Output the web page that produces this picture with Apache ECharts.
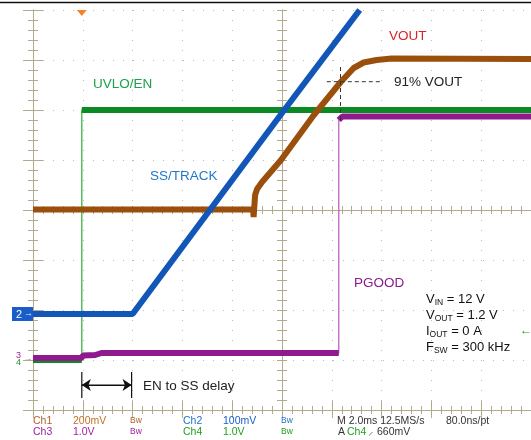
<!DOCTYPE html>
<html><head><meta charset="utf-8">
<script src="https://cdn.jsdelivr.net/npm/echarts@6/dist/echarts.min.js"></script>
<style>html,body{margin:0;padding:0;background:#fff}#c{width:531px;height:440px}</style>
</head><body><div id="c"></div>
<script>
// Time in ms (2 ms/div), amplitude in screen divisions (0 = bottom graticule line, 8 = top)
const timeRange = [0, 20];
const divRange = [0, 8];
const ch4UvloEn = [[0,1.0],[1.96,1.0],[1.96,6.0],[20,6.0]];
const ch3Pgood = [[0,1.04],[1.96,1.04],[2.0,1.09],[2.5,1.1],[2.75,1.14],[12.28,1.14],[12.28,5.8],[12.42,5.87],[20,5.87]];
const ch2SsTrack = [[0,1.92],[4.0,1.92],[10.0,5.94],[13.12,8.0]];
const ch1Vout = [[0,4.01],[8.84,4.01],[8.86,3.86],[8.92,4.3],[9.0,4.42],[9.2,4.56],[9.96,5.0],[11.28,5.9],[12.36,6.56],[12.88,6.84],[13.28,6.95],[13.8,7.0],[14.4,7.03],[20,7.02]];
const mark91H = [[11.8,6.566],[13.96,6.566]];
const mark91V = [[12.35,6.86],[12.35,5.8]];
const delayL = [[1.96,0.76],[1.96,0.24]];
const delayR = [[3.96,0.76],[3.96,0.24]];
const delayArrow = [[1.96,0.5],[3.96,0.5]];
const triggerTime = 1.96;

const FF = '"Liberation Sans", Arial, sans-serif';
const FRAME = '#b4aa90';
const C1 = '#9b4f0c', C2 = '#1257b8', C3 = '#8e1a8e', C4 = '#0b8a22';

function thick(d){ // drop vertical edges (drawn thin)
  const out=[d[0]];
  for(let i=1;i<d.length;i++){
    if(Math.abs(d[i][0]-d[i-1][0])<1e-6){ out.push([d[i][0],null]); }
    out.push(d[i]);
  }
  return out;
}
function line(data, color, w, z, extra){
  return Object.assign({type:'line', xAxisIndex:0, yAxisIndex:0, data, showSymbol:false, symbol:'none', silent:true,
    lineStyle:{color, width:w}, z, clip:true, animation:false, connectNulls:false}, extra||{});
}
const frameAxis = (pos, len, mlen) => ({
  show:true, position:pos, axisLine:{show:true, lineStyle:{color:FRAME, width:1}},
  axisTick:{show:true, inside:true, length:len, lineStyle:{color:FRAME}},
  minorTick:{show:true, splitNumber:5, length:mlen, lineStyle:{color:FRAME}},
  axisLabel:{show:false}, splitLine:{show:false}
});
const centerX = (gi, inside) => ({type:'value', gridIndex:gi, min:-10, max:10, interval:2, position:'bottom',
  axisLine:{show:true, onZero:true, lineStyle:{color:FRAME}},
  axisTick:{show:true, inside, length:4, lineStyle:{color:FRAME}},
  minorTick:{show:true, splitNumber:5, length:4, lineStyle:{color:FRAME}},
  axisLabel:{show:false}, splitLine:{show:false}});
const centerY = (gi, inside) => ({type:'value', gridIndex:gi, min:-4, max:4, interval:1, position:'left',
  axisLine:{show:true, onZero:true, lineStyle:{color:FRAME}},
  axisTick:{show:true, inside, length:5, lineStyle:{color:FRAME}},
  minorTick:{show:true, splitNumber:5, length:5, lineStyle:{color:FRAME}},
  axisLabel:{show:false}, splitLine:{show:false}});

const dotted = {show:true, lineStyle:{color:'#bdbdbd', width:1, type:[1,9]}};
const rect = {left:33, top:10, width:500, height:400};

const chart = echarts.init(document.getElementById('c'), null, {renderer:'canvas'});
chart.setOption({
  animation:false, backgroundColor:'#fff',
  grid:[Object.assign({},rect), Object.assign({},rect), Object.assign({},rect)],
  xAxis:[
    Object.assign({type:'value', gridIndex:0, min:timeRange[0], max:timeRange[1], interval:2}, frameAxis('bottom',9,4), {splitLine:dotted}),
    Object.assign({type:'value', gridIndex:0, min:timeRange[0], max:timeRange[1], interval:2}, frameAxis('top',8,4)),
    centerX(1,false), centerX(2,true)
  ],
  yAxis:[
    Object.assign({type:'value', gridIndex:0, min:divRange[0], max:divRange[1], interval:1}, frameAxis('left',10,5), {splitLine:dotted}),
    Object.assign({type:'value', gridIndex:0, min:divRange[0], max:divRange[1], interval:1}, frameAxis('right',10,5)),
    centerY(1,false), centerY(2,true)
  ],
  series:[
    line(ch4UvloEn, '#3cb043', 1.3, 5),
    line(thick(ch4UvloEn), C4, 6, 6),
    line(ch3Pgood, '#c060c0', 1.3, 7),
    line(thick(ch3Pgood), C3, 6, 8),
    line(thick(ch1Vout), C1, 6, 9),
    line(thick(ch2SsTrack), C2, 6, 10),
    line(mark91H, '#333', 1, 11, {lineStyle:{color:'#333', width:1, type:[4,3]}}),
    line(mark91V, '#333', 1, 11, {lineStyle:{color:'#333', width:1, type:[4,3]}}),
    line(delayL, '#111', 1.2, 11),
    line(delayR, '#111', 1.2, 11),
    line(delayArrow, '#111', 1.2, 11, {markLine:{silent:true, animation:false, symbol:['arrow','arrow'], symbolSize:[9,9],
      lineStyle:{color:'#111', width:1.2, type:'solid'}, label:{show:false},
      data:[[{coord:delayArrow[0]},{coord:delayArrow[1]}]]}})
  ]
});

const tpx = chart.convertToPixel({xAxisIndex:0, yAxisIndex:0}, [triggerTime, 8]);
const c2px = chart.convertToPixel({xAxisIndex:0, yAxisIndex:0}, [0, ch2SsTrack[0][1]]);
const c3px = chart.convertToPixel({xAxisIndex:0, yAxisIndex:0}, [0, ch3Pgood[0][1]]);

function T(x,y,text,fill,size,extra){
  return {type:'text', x, y, z:100, silent:true, style:Object.assign({text, fill, font: size+'px '+FF, textAlign:'left', align:'left', textVerticalAlign:'middle', verticalAlign:'middle'}, extra||{})};
}
function sub(x,y,main,s,rest){
  return {type:'text', x, y, z:100, silent:true, style:{text:'{m|'+main+'}{s|'+s+'}{m|'+rest+'}', fill:'#111', textAlign:'left', align:'left', textVerticalAlign:'middle', verticalAlign:'middle',
    rich:{m:{font:'13px '+FF, fill:'#111', lineHeight:16, verticalAlign:'middle'}, s:{font:'8.5px '+FF, fill:'#111', lineHeight:16, verticalAlign:'bottom'}}}};
}
const g = [
  {type:'line', z:100, silent:true, shape:{x1:0,y1:2.5,x2:531,y2:2.5}, style:{stroke:'#111', lineWidth:1.3}},
  {type:'polygon', z:100, silent:true, shape:{points:[[tpx[0]-5,tpx[1]],[tpx[0]+5,tpx[1]],[tpx[0],tpx[1]+6]]}, style:{fill:'#f5822a'}},
  {type:'rect', z:100, silent:true, shape:{x:12, y:c2px[1]-7, width:21, height:14}, style:{fill:'#1a5cc8'}},
  T(16, c2px[1]+0.5, '2', '#fff', 11),
  T(24, c2px[1], '→', '#dfe9ff', 9),
  T(16, c3px[1]-2, '3', '#a0209a', 9),
  T(16, c3px[1]+5, '4', '#1a9a2a', 9),
  T(24, c3px[1]+1, '→', '#a0602a', 8),
  T(520, 331, '←', '#1a9a2a', 12),
  T(93, 84, 'UVLO/EN', '#1aa348', 13.5),
  T(150, 176, 'SS/TRACK', '#1f78c8', 13.5),
  T(389, 36, 'VOUT', '#d8232a', 13.5),
  T(394, 82, '91% VOUT', '#222', 13.5),
  T(354, 283, 'PGOOD', '#8b1a8b', 13.5),
  T(143, 386, 'EN to SS delay', '#222', 13.5),
  sub(426, 299, 'V', 'IN', ' = 12 V'),
  sub(426, 315, 'V', 'OUT', ' = 1.2 V'),
  sub(426, 331, 'I', 'OUT', ' = 0 A'),
  sub(426, 347, 'F', 'SW', ' = 300 kHz'),
  // bottom status rows
  T(33, 421, 'Ch1', '#b0602a', 10.5), T(73, 421, '200mV', '#c0702a', 10.5), T(130, 421, 'Bw', '#b0602a', 8.5),
  T(183, 421, 'Ch2', '#2070d0', 10.5), T(223, 421, '100mV', '#1a5ad0', 10.5), T(281, 421, 'Bw', '#2070d0', 8.5),
  T(337, 421, 'M 2.0ms 12.5MS/s', '#333', 10.5), T(446, 421, '80.0ns/pt', '#333', 10.5),
  T(33, 432, 'Ch3', '#a020a0', 10.5), T(73, 432, '1.0V', '#a020a0', 10.5), T(130, 432, 'Bw', '#a020a0', 8.5),
  T(183, 432, 'Ch4', '#20a020', 10.5), T(223, 432, '1.0V', '#20a020', 10.5), T(281, 432, 'Bw', '#20a020', 8.5),
  T(338, 432, 'A', '#333', 10.5), T(347, 432, 'Ch4', '#20a020', 10.5), T(368, 432, '⸝', '#333', 10.5), T(377, 432, '660mV', '#333', 10.5)
];
chart.setOption({graphic:g});
</script></body></html>
